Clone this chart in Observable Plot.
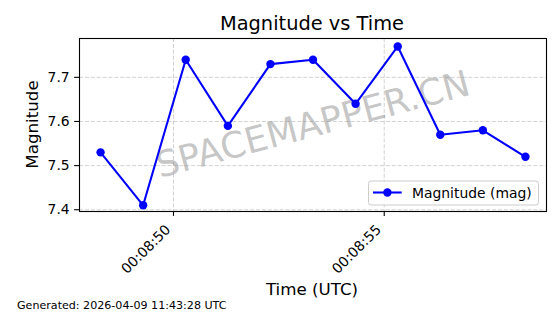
<!DOCTYPE html>
<html><head><meta charset="utf-8">
<script src="https://cdn.jsdelivr.net/npm/d3@7"></script>
<script src="https://cdn.jsdelivr.net/npm/@observablehq/plot@0.6"></script>
<style>
html,body{margin:0;padding:0;background:#fff;}
#chart{width:560px;height:314px;position:relative;}
</style></head><body><div id="chart"></div>
<script>
// ---- data ----
const day = "2026-04-09";
const times = ["00:08:48.27","00:08:49.28","00:08:50.29","00:08:51.29","00:08:52.30","00:08:53.31",
               "00:08:54.32","00:08:55.32","00:08:56.33","00:08:57.34","00:08:58.35"];
const magnitudes = [7.53, 7.41, 7.74, 7.59, 7.73, 7.74, 7.64, 7.77, 7.57, 7.58, 7.52];
const xTickLabels = ["00:08:50", "00:08:55"];
const yTickValues = [7.4, 7.5, 7.6, 7.7];
const xDomain = ["00:08:47.77", "00:08:58.85"];
const yDomain = [7.396, 7.788];
const titleText = "Magnitude vs Time";
const xLabel = "Time (UTC)";
const yLabel = "Magnitude";
const seriesName = "Magnitude (mag)";
const watermark = "SPACEMAPPER.CN";
const footer = "Generated: 2026-04-09 11:43:28 UTC";

const toDate = t => new Date(`${day}T${t}Z`);
const data = times.map((t, i) => ({time: toDate(t), mag: magnitudes[i]}));
const xTicks = xTickLabels.map(toDate);

const FONT = "DejaVu Sans";
const gridStyle = {stroke: "#b0b0b0", strokeOpacity: 0.7, strokeDasharray: "4.1,1.8", strokeWidth: 0.8};

const plot = Plot.plot({
  width: 560, height: 314,
  marginTop: 38, marginBottom: 103, marginLeft: 79, marginRight: 14,
  style: {fontFamily: FONT, fontSize: "13.9px", color: "black", background: "white"},
  x: {type: "utc", domain: xDomain.map(toDate)},
  y: {domain: yDomain},
  marks: [
    Plot.gridX(xTicks, gridStyle),
    Plot.gridY(yTickValues, gridStyle),
    Plot.text([watermark], {frameAnchor: "middle", text: d => d, rotate: -15, fontSize: 36,
      fontFamily: FONT, fill: "#808080", fillOpacity: 0.45}),
    Plot.line(data, {x: "time", y: "mag", stroke: "blue", strokeWidth: 2.08}),
    Plot.dot(data, {x: "time", y: "mag", r: 4.2, fill: "blue", stroke: "none"}),
    Plot.frame({stroke: "black", strokeWidth: 1.1}),
    Plot.axisX(xTicks, {tickFormat: () => "", tickSize: 4.9, label: null, strokeWidth: 1.1}),
    Plot.text(xTicks, {x: d => d, frameAnchor: "bottom", text: d3.utcFormat("%H:%M:%S"),
      rotate: -45, textAnchor: "end", lineAnchor: "bottom", dx: -2.3, dy: 19,
      fontSize: 13.9, fontFamily: FONT, fill: "black"}),
    Plot.axisY(yTickValues, {tickFormat: d3.format(".1f"), tickSize: 4.9, tickPadding: 4.9,
      label: null, strokeWidth: 1.1})
  ]
});
document.getElementById("chart").appendChild(plot);

const svg = d3.select(plot);
const addText = (txt, x, y, size, anchor, rot) => {
  const t = svg.append("text").attr("x", x).attr("y", y).attr("font-family", FONT)
    .attr("font-size", size).attr("text-anchor", anchor).attr("fill", "black").text(txt);
  if (rot) t.attr("transform", `rotate(${rot},${x},${y})`);
  return t;
};
addText(titleText, 312, 30, 19.4, "middle");
addText(xLabel, 312, 295, 16.7, "middle");
addText(yLabel, 37.5, 124.5, 16.7, "middle", -90);
addText(footer, 17, 308.5, 11.1, "start");

// legend
const lg = svg.append("g");
lg.append("rect").attr("x", 368.5).attr("y", 181).attr("width", 170).attr("height", 24)
  .attr("rx", 2.5).attr("fill", "white").attr("fill-opacity", 0.8).attr("stroke", "#cccccc").attr("stroke-width", 1);
lg.append("line").attr("x1", 373).attr("x2", 401.7).attr("y1", 192.5).attr("y2", 192.5)
  .attr("stroke", "blue").attr("stroke-width", 2.08);
lg.append("circle").attr("cx", 387.4).attr("cy", 192.5).attr("r", 4.2).attr("fill", "blue");
addText(seriesName, 412, 197.5, 13.9, "start");
</script></body></html>
